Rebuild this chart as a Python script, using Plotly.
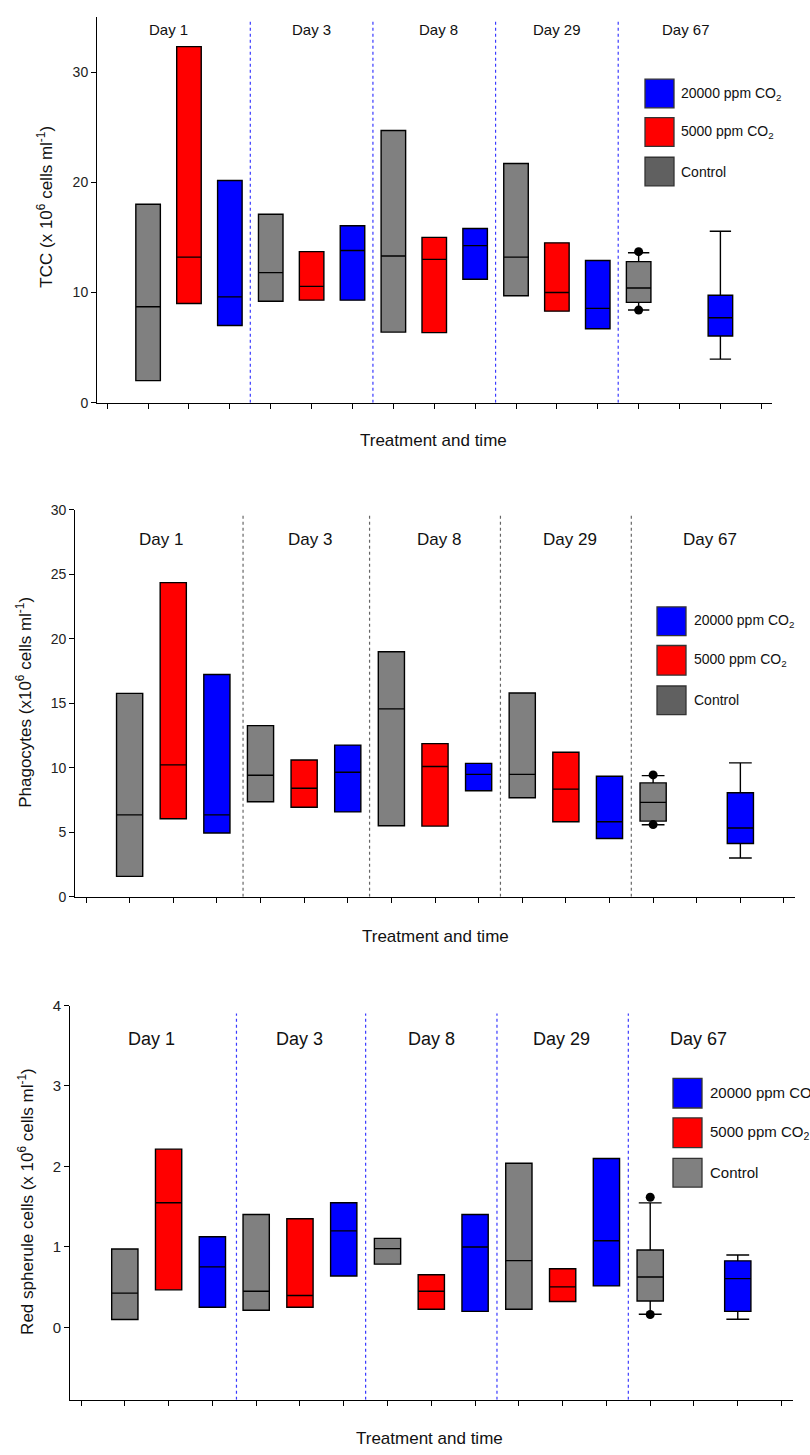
import plotly.graph_objects as go

W, H = 810, 1455
PAGE_OFFSET = 0

# ---------------- data ----------------
pos_control = [1, 4, 7, 10, 13]
pos_5000 = [2, 5, 8, 11]
pos_20000 = [3, 6, 9, 12, 15]
day_labels = ["Day 1", "Day 3", "Day 8", "Day 29", "Day 67"]
tick_positions = list(range(0, 17))
treatments = ["20000 ppm CO<sub>2</sub>", "5000 ppm CO<sub>2</sub>", "Control"]

# Panel 1: TCC
tcc_control_q1 = [2.0, 9.2, 6.4, 9.7, 9.1]
tcc_control_med = [8.7, 11.8, 13.3, 13.2, 10.4]
tcc_control_q3 = [18.0, 17.1, 24.7, 21.7, 12.8]
tcc_control_lo = [2.0, 9.2, 6.4, 9.7, 8.4]
tcc_control_hi = [18.0, 17.1, 24.7, 21.7, 13.6]
tcc_5000_q1 = [9.0, 9.3, 6.35, 8.3]
tcc_5000_med = [13.2, 10.55, 13.0, 10.0]
tcc_5000_q3 = [32.3, 13.7, 15.0, 14.5]
tcc_20000_q1 = [7.0, 9.3, 11.2, 6.7, 6.05]
tcc_20000_med = [9.6, 13.8, 14.25, 8.55, 7.7]
tcc_20000_q3 = [20.15, 16.05, 15.8, 12.9, 9.75]
tcc_20000_lo = [7.0, 9.3, 11.2, 6.7, 3.95]
tcc_20000_hi = [20.15, 16.05, 15.8, 12.9, 15.55]
tcc_outliers_x = [13, 13]
tcc_outliers_y = [13.7, 8.4]

# Panel 2: Phagocytes
ph_control_q1 = [1.58, 7.37, 5.51, 7.68, 5.87]
ph_control_med = [6.35, 9.42, 14.57, 9.49, 7.32]
ph_control_q3 = [15.77, 13.27, 18.99, 15.8, 8.83]
ph_control_lo = [1.58, 7.37, 5.51, 7.68, 5.59]
ph_control_hi = [15.77, 13.27, 18.99, 15.8, 9.39]
ph_5000_q1 = [6.05, 6.94, 5.48, 5.82]
ph_5000_med = [10.23, 8.42, 10.1, 8.35]
ph_5000_q3 = [24.35, 10.61, 11.87, 11.2]
ph_20000_q1 = [4.95, 6.58, 8.22, 4.52, 4.13]
ph_20000_med = [6.35, 9.65, 9.49, 5.82, 5.33]
ph_20000_q3 = [17.23, 11.76, 10.34, 9.34, 8.06]
ph_20000_lo = [4.95, 6.58, 8.22, 4.52, 3.01]
ph_20000_hi = [17.23, 11.76, 10.34, 9.34, 10.38]
ph_outliers_x = [13, 13]
ph_outliers_y = [9.45, 5.6]

# Panel 3: Red spherule cells
rs_control_q1 = [0.098, 0.213, 0.786, 0.225, 0.328]
rs_control_med = [0.426, 0.45, 0.979, 0.83, 0.627]
rs_control_q3 = [0.974, 1.404, 1.106, 2.04, 0.962]
rs_control_lo = [0.098, 0.213, 0.786, 0.225, 0.164]
rs_control_hi = [0.974, 1.404, 1.106, 2.04, 1.548]
rs_5000_q1 = [0.467, 0.25, 0.225, 0.323]
rs_5000_med = [1.55, 0.397, 0.45, 0.504]
rs_5000_q3 = [2.215, 1.35, 0.655, 0.729]
rs_20000_q1 = [0.25, 0.639, 0.2, 0.516, 0.2]
rs_20000_med = [0.753, 1.2, 1.0, 1.077, 0.606]
rs_20000_q3 = [1.126, 1.55, 1.404, 2.1, 0.827]
rs_20000_lo = [0.25, 0.639, 0.2, 0.516, 0.102]
rs_20000_hi = [1.126, 1.55, 1.404, 2.1, 0.9]
rs_outliers_x = [13, 13]
rs_outliers_y = [1.618, 0.16]

# ---------------- styling / layout ----------------
FONT = "Arial, Liberation Sans, sans-serif"
GREY, RED, BLUE = "#808080", "#FF0000", "#0000FF"

def px_x(p):
    return min(1.0, max(0.0, (p - PAGE_OFFSET) / W))

def px_y(p):
    return min(1.0, max(0.0, 1 - (p - PAGE_OFFSET) / H))

panels = [
    dict(xd=(97, 771.5), yd=(8.0, 398.3), yr=[0, 35], dtick=10, tickfont=14,
         sep=[3.5, 6.5, 9.5, 12.5], sep_top=34.8, sep_bot=0, sep_color="#3a3aff",
         day_x=[1.5, 5.0, 8.1, 11.0, 14.15], day_y=33.9, day_font=15,
         ytitle="TCC (x 10<sup>6</sup> cells ml<sup>-1</sup>)", ytitle_xy=(45, 200),
         xtitle_xy=(434, 437), leg_x=(645, 674), leg_y=[(71, 100), (110, 139), (150, 179)],
         leg_text_x=679, leg_font=14, ctrl_leg="#606060",
         data=dict(c=(tcc_control_q1, tcc_control_med, tcc_control_q3, tcc_control_lo, tcc_control_hi),
                   r=(tcc_5000_q1, tcc_5000_med, tcc_5000_q3),
                   b=(tcc_20000_q1, tcc_20000_med, tcc_20000_q3, tcc_20000_lo, tcc_20000_hi),
                   o=(tcc_outliers_x, tcc_outliers_y))),
    dict(xd=(75.1, 794.9), yd=(506.7, 898.3), yr=[0, 30], dtick=5, tickfont=14,
         sep=[3.6, 6.5, 9.5, 12.5], sep_top=29.7, sep_bot=0, sep_color="#666666",
         day_x=[1.73, 5.14, 8.1, 11.1, 14.3], day_y=27.7, day_font=17,
         ytitle="Phagocytes (x10<sup>6</sup> cells ml<sup>-1</sup>)", ytitle_xy=(24, 702),
         xtitle_xy=(435, 938), leg_x=(657, 686), leg_y=[(605, 634), (644, 674), (685, 714)],
         leg_text_x=692, leg_font=14, ctrl_leg="#606060",
         data=dict(c=(ph_control_q1, ph_control_med, ph_control_q3, ph_control_lo, ph_control_hi),
                   r=(ph_5000_q1, ph_5000_med, ph_5000_q3),
                   b=(ph_20000_q1, ph_20000_med, ph_20000_q3, ph_20000_lo, ph_20000_hi),
                   o=(ph_outliers_x, ph_outliers_y))),
    dict(xd=(70.1, 792.5), yd=(1008.3, 1407.3), yr=[-0.9, 4], dtick=1, tickfont=15,
         sep=[3.55, 6.5, 9.5, 12.5], sep_top=3.9, sep_bot=-0.9, sep_color="#3a3aff",
         day_x=[1.61, 5.0, 8.0, 10.98, 14.1], day_y=3.59, day_font=18,
         ytitle="Red spherule cells (x 10<sup>6</sup> cells ml<sup>-1</sup>)", ytitle_xy=(26, 1207),
         xtitle_xy=(429, 1446), leg_x=(673, 702), leg_y=[(1082, 1112), (1122, 1152), (1163, 1192)],
         leg_text_x=708, leg_font=15, ctrl_leg=GREY,
         data=dict(c=(rs_control_q1, rs_control_med, rs_control_q3, rs_control_lo, rs_control_hi),
                   r=(rs_5000_q1, rs_5000_med, rs_5000_q3),
                   b=(rs_20000_q1, rs_20000_med, rs_20000_q3, rs_20000_lo, rs_20000_hi),
                   o=(rs_outliers_x, rs_outliers_y))),
]

fig = go.Figure()
shapes, annotations = [], []
layout = dict(width=W, height=H, margin=dict(l=0, r=0, t=0, b=0),
              paper_bgcolor="white", plot_bgcolor="white", showlegend=False,
              font=dict(family=FONT, color="#222222"))

for i, p in enumerate(panels):
    n = "" if i == 0 else str(i + 1)
    xa, ya = "x" + n, "y" + n
    d = p["data"]
    box_common = dict(xaxis=xa, yaxis=ya, width=0.6, whiskerwidth=0.87, boxpoints=False,
                      line=dict(color="black", width=1.4), hoverinfo="skip", showlegend=False)
    q1, med, q3, lo, hi = d["c"]
    fig.add_trace(go.Box(x=pos_control, q1=q1, median=med, q3=q3, lowerfence=lo, upperfence=hi,
                         fillcolor=GREY, **box_common))
    q1, med, q3 = d["r"]
    fig.add_trace(go.Box(x=pos_5000, q1=q1, median=med, q3=q3, lowerfence=q1, upperfence=q3,
                         fillcolor=RED, **box_common))
    q1, med, q3, lo, hi = d["b"]
    fig.add_trace(go.Box(x=pos_20000, q1=q1, median=med, q3=q3, lowerfence=lo, upperfence=hi,
                         fillcolor=BLUE, **box_common))
    ox, oy = d["o"]
    fig.add_trace(go.Scatter(x=ox, y=oy, mode="markers", xaxis=xa, yaxis=ya,
                             marker=dict(color="black", size=9), hoverinfo="skip", showlegend=False))

    layout["xaxis" + n] = dict(domain=[px_x(p["xd"][0]), px_x(p["xd"][1])], range=[-0.25, 16.25],
                               anchor=ya, showgrid=False, zeroline=False, showline=True,
                               linecolor="black", linewidth=1, ticks="outside", ticklen=5,
                               tickcolor="black", tickwidth=1, tickvals=tick_positions,
                               showticklabels=False, fixedrange=True)
    layout["yaxis" + n] = dict(domain=[px_y(p["yd"][1]), px_y(p["yd"][0])], range=p["yr"],
                               anchor=xa, showgrid=False, zeroline=False, showline=True,
                               linecolor="black", linewidth=1, ticks="outside", ticklen=5,
                               tickcolor="black", tickwidth=1, tick0=0, dtick=p["dtick"],
                               tickfont=dict(size=p["tickfont"], color="#222222"), fixedrange=True)

    for sx in p["sep"]:
        shapes.append(dict(type="line", xref=xa, yref=ya, x0=sx, x1=sx, y0=p["sep_bot"], y1=p["sep_top"],
                           line=dict(color=p["sep_color"], width=1.2, dash="dot")))
    for lab, dx in zip(day_labels, p["day_x"]):
        annotations.append(dict(text=lab, x=dx, y=p["day_y"], xref=xa, yref=ya, showarrow=False,
                                xanchor="center", yanchor="middle",
                                font=dict(size=p["day_font"], color="#111111")))
    tx, ty = p["ytitle_xy"]
    annotations.append(dict(text=p["ytitle"], x=px_x(tx), y=px_y(ty), xref="paper", yref="paper",
                            showarrow=False, textangle=-90, xanchor="center", yanchor="middle",
                            font=dict(size=17, color="#111111")))
    tx, ty = p["xtitle_xy"]
    annotations.append(dict(text="Treatment and time", x=px_x(tx), y=px_y(ty), xref="paper", yref="paper",
                            showarrow=False, xanchor="center", yanchor="middle",
                            font=dict(size=17, color="#111111")))
    leg_fills = [BLUE, RED, p["ctrl_leg"]]
    for (y0, y1), fc, lab in zip(p["leg_y"], leg_fills, treatments):
        shapes.append(dict(type="rect", xref="paper", yref="paper",
                           x0=px_x(p["leg_x"][0]), x1=px_x(p["leg_x"][1]),
                           y0=px_y(y1), y1=px_y(y0), fillcolor=fc,
                           line=dict(color="#333333", width=1.3)))
        annotations.append(dict(text=lab, x=px_x(p["leg_text_x"]), y=px_y((y0 + y1) / 2),
                                xref="paper", yref="paper", showarrow=False,
                                xanchor="left", yanchor="middle",
                                font=dict(size=p["leg_font"], color="#111111")))

layout["shapes"] = shapes
layout["annotations"] = annotations
fig.update_layout(**layout)
fig.write_html("out.html", config={"displayModeBar": False},
               post_script="document.body.style.margin='0px'; document.body.style.overflow='hidden';")
